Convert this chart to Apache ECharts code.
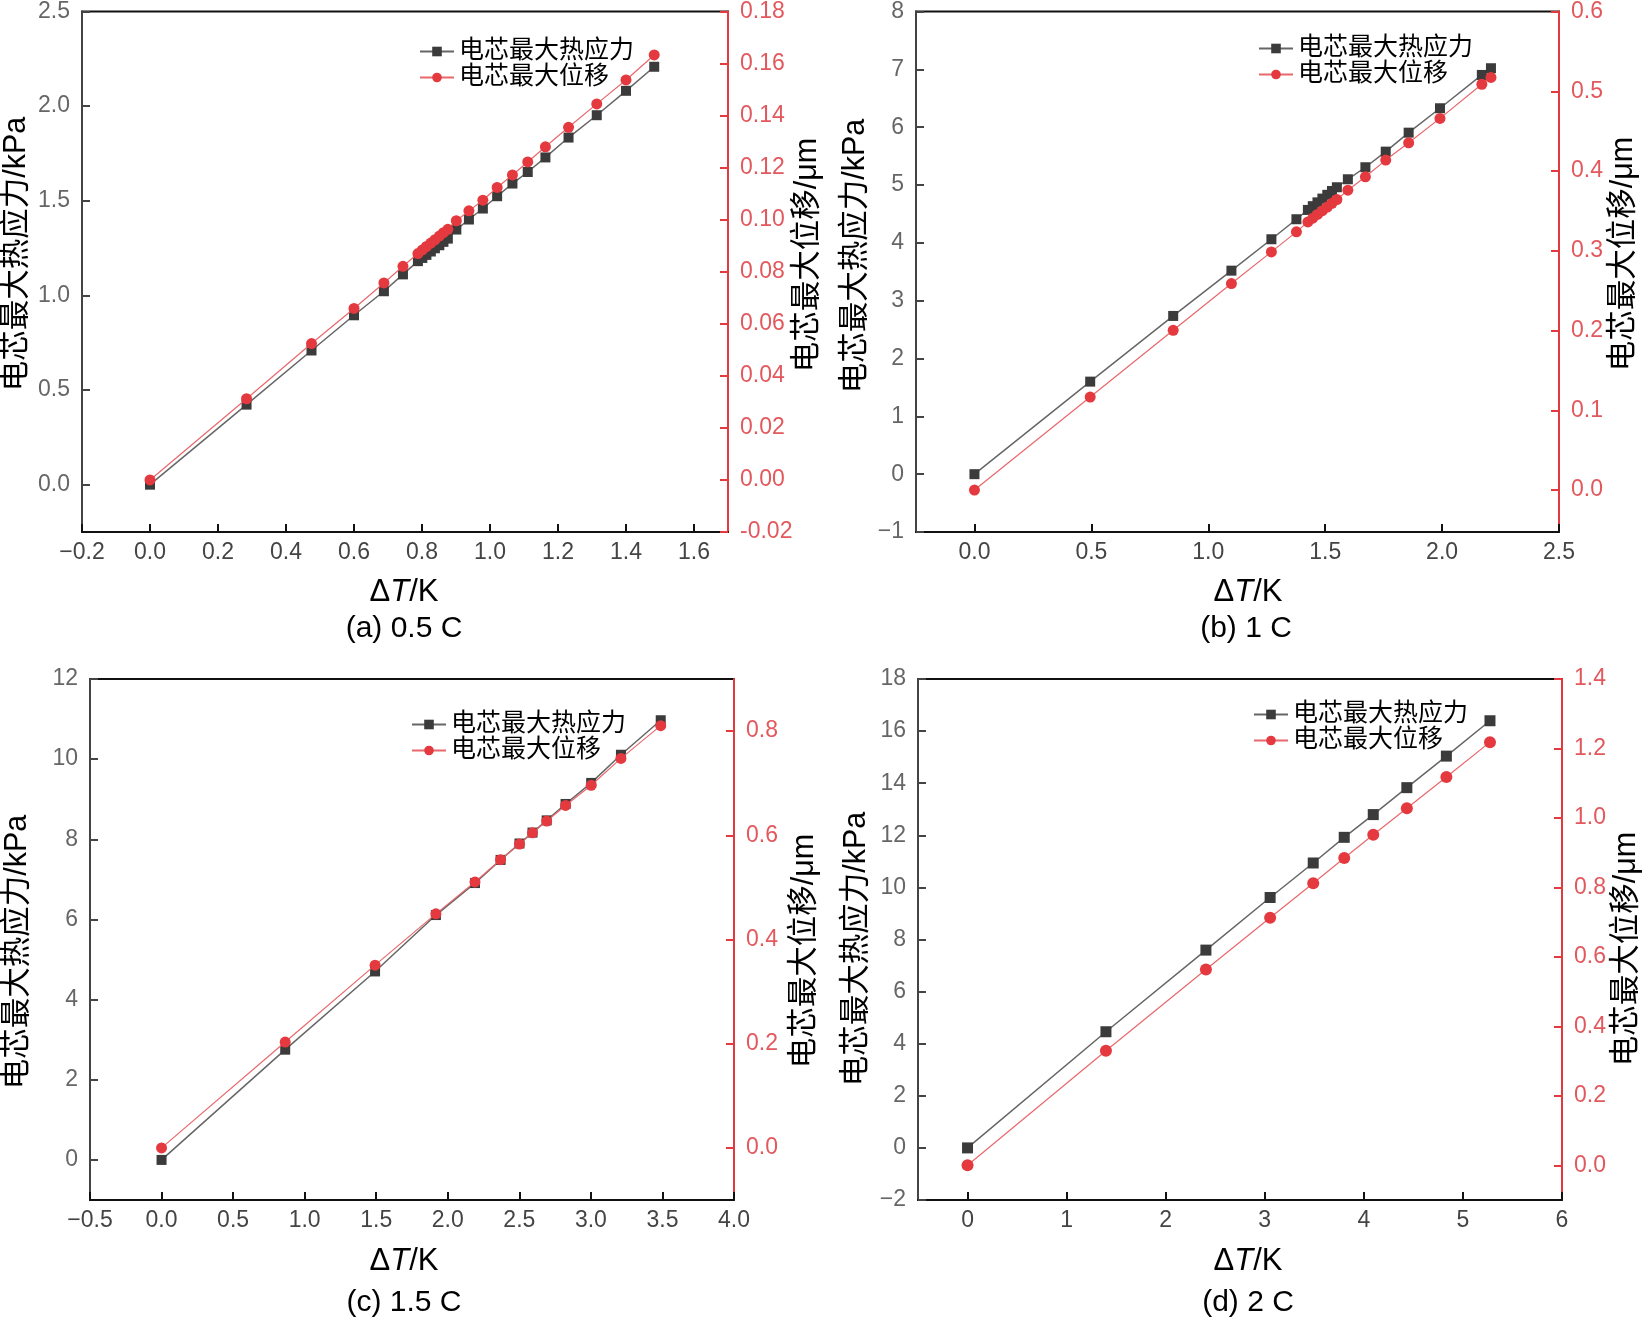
<!DOCTYPE html>
<html>
<head>
<meta charset="utf-8">
<script src="https://cdn.jsdelivr.net/npm/echarts@6/dist/echarts.min.js"></script>
<style>
html,body{margin:0;padding:0;background:#fff}
#chart{width:1644px;height:1320px}
</style>
</head>
<body>
<div id="chart"></div>
<script>
// (a) 0.5 C
var dtA = [0, 0.284, 0.475, 0.600, 0.688, 0.744, 0.788, 0.801, 0.813, 0.826, 0.838, 0.851, 0.863, 0.876, 0.901, 0.938, 0.979, 1.021, 1.066, 1.111, 1.163, 1.231, 1.314, 1.400, 1.483];
var stressA = [0, 0.423, 0.709, 0.895, 1.022, 1.111, 1.181, 1.198, 1.214, 1.232, 1.249, 1.265, 1.283, 1.300, 1.348, 1.401, 1.459, 1.524, 1.591, 1.652, 1.729, 1.834, 1.952, 2.081, 2.208];
var dispA = [0, 0.0312, 0.0524, 0.0659, 0.0757, 0.0821, 0.0870, 0.0884, 0.0897, 0.0910, 0.0923, 0.0937, 0.0950, 0.0963, 0.0996, 0.1034, 0.1075, 0.1124, 0.1172, 0.1222, 0.1280, 0.1355, 0.1445, 0.1537, 0.1633];
// (b) 1 C
var dtB = [0, 0.495, 0.850, 1.099, 1.270, 1.377, 1.426, 1.447, 1.467, 1.488, 1.509, 1.529, 1.550, 1.597, 1.672, 1.759, 1.857, 1.991, 2.170, 2.209];
var stressB = [0, 1.600, 2.736, 3.519, 4.062, 4.408, 4.569, 4.634, 4.700, 4.765, 4.830, 4.896, 4.961, 5.099, 5.307, 5.577, 5.905, 6.327, 6.903, 7.019];
var dispB = [0, 0.1166, 0.2003, 0.2589, 0.2986, 0.3237, 0.3362, 0.3409, 0.3456, 0.3503, 0.3549, 0.3596, 0.3643, 0.3760, 0.3927, 0.4137, 0.4354, 0.4660, 0.5088, 0.5174];
// (c) 1.5 C
var dtC = [0, 0.864, 1.492, 1.917, 2.190, 2.369, 2.501, 2.592, 2.691, 2.823, 3.002, 3.210, 3.488];
var stressC = [0, 2.751, 4.703, 6.110, 6.908, 7.486, 7.895, 8.168, 8.472, 8.882, 9.407, 10.110, 10.971];
var dispC = [0, 0.2032, 0.3508, 0.4492, 0.5105, 0.5532, 0.5831, 0.6048, 0.6274, 0.6573, 0.6960, 0.7476, 0.8105];
// (d) 2 C
var dtD = [0, 1.397, 2.406, 3.054, 3.489, 3.802, 4.095, 4.434, 4.833, 5.273];
var stressD = [0, 4.459, 7.593, 9.612, 10.937, 11.922, 12.795, 13.829, 15.040, 16.397];
var dispD = [0, 0.3297, 0.5636, 0.7127, 0.8121, 0.8848, 0.9515, 1.0279, 1.1176, 1.2182];

// tick labels
var xTicksA = [-0.2, 0, 0.2, 0.4, 0.6, 0.8, 1.0, 1.2, 1.4, 1.6];
var stressTicksA = [0, 0.5, 1.0, 1.5, 2.0, 2.5];
var dispTicksA = [-0.02, 0, 0.02, 0.04, 0.06, 0.08, 0.10, 0.12, 0.14, 0.16, 0.18];
var xTicksB = [0, 0.5, 1.0, 1.5, 2.0, 2.5];
var stressTicksB = [-1, 0, 1, 2, 3, 4, 5, 6, 7, 8];
var dispTicksB = [0, 0.1, 0.2, 0.3, 0.4, 0.5, 0.6];
var xTicksC = [-0.5, 0, 0.5, 1.0, 1.5, 2.0, 2.5, 3.0, 3.5, 4.0];
var stressTicksC = [0, 2, 4, 6, 8, 10, 12];
var dispTicksC = [0, 0.2, 0.4, 0.6, 0.8];
var xTicksD = [0, 1, 2, 3, 4, 5, 6];
var stressTicksD = [-2, 0, 2, 4, 6, 8, 10, 12, 14, 16, 18];
var dispTicksD = [0, 0.2, 0.4, 0.6, 0.8, 1.0, 1.2, 1.4];

var panelTitles = ['(a) 0.5 C', '(b) 1 C', '(c) 1.5 C', '(d) 2 C'];
var stressName = '电芯最大热应力';
var dispName = '电芯最大位移';

var FONT = '"Liberation Sans","Noto Sans CJK SC",sans-serif';
var RED = '#e4393f';

var panels = [
  {dt: dtA, s: stressA, d: dispA, xt: xTicksA, st: stressTicksA, dtk: dispTicksA,
   xr: [-0.2, 1.7], sr: [-0.25, 2.5], dr: [-0.02, 0.18], dec: [1, 1, 2],
   g: {left: 82, top: 11, width: 646, height: 521},
   leg: {left: 419, top: 39}, nameL: [17, 254], nameR: [808, 255], xName: [404, 592], title: [404, 629]},
  {dt: dtB, s: stressB, d: dispB, xt: xTicksB, st: stressTicksB, dtk: dispTicksB,
   xr: [-0.25, 2.5], sr: [-1, 8], dr: [-0.0526, 0.6], dec: [1, 0, 1],
   g: {left: 916, top: 11, width: 643, height: 521},
   leg: {left: 1258, top: 36}, nameL: [856, 256], nameR: [1624, 254], xName: [1248, 592], title: [1246, 629]},
  {dt: dtC, s: stressC, d: dispC, xt: xTicksC, st: stressTicksC, dtk: dispTicksC,
   xr: [-0.5, 4.0], sr: [-1, 12], dr: [-0.1, 0.9], dec: [1, 0, 1],
   g: {left: 90, top: 679, width: 644, height: 521},
   leg: {left: 411, top: 712}, nameL: [18, 952], nameR: [805, 951], xName: [404, 1261], title: [404, 1303]},
  {dt: dtD, s: stressD, d: dispD, xt: xTicksD, st: stressTicksD, dtk: dispTicksD,
   xr: [-0.5, 6], sr: [-2, 18], dr: [-0.1, 1.4], dec: [0, 0, 1],
   g: {left: 918, top: 679, width: 644, height: 521},
   leg: {left: 1253, top: 702}, nameL: [857, 949], nameR: [1627, 949], xName: [1248, 1261], title: [1248, 1303]}
];

function fmt(dec, minus) {
  return function (v) {
    var t = Number(v).toFixed(dec);
    if (minus && t.charAt(0) === '-') t = '\u2212' + t.slice(1);
    return t;
  };
}
function zip(xs, ys) {
  return xs.map(function (x, i) { return [x, ys[i]]; });
}

var option = {
  backgroundColor: '#fff',
  animation: false,
  grid: [], xAxis: [], yAxis: [], series: [], legend: [], graphic: []
};

panels.forEach(function (p, i) {
  option.grid.push({left: p.g.left, top: p.g.top, width: p.g.width, height: p.g.height,
    show: true, borderColor: '#111', borderWidth: 2, backgroundColor: 'transparent'});

  option.xAxis.push({
    gridIndex: i, type: 'value', min: p.xr[0], max: p.xr[1],
    axisLine: {show: true, onZero: false, lineStyle: {color: '#111', width: 2}},
    axisTick: {show: true, inside: true, length: 8, customValues: p.xt, lineStyle: {color: '#111', width: 2}},
    axisLabel: {customValues: p.xt, formatter: fmt(p.dec[0], true), color: '#444', fontSize: 23, fontFamily: FONT, margin: 9},
    splitLine: {show: false}
  });
  option.yAxis.push({
    gridIndex: i, type: 'value', position: 'left', min: p.sr[0], max: p.sr[1],
    axisLine: {show: true, onZero: false, lineStyle: {color: '#444', width: 2}},
    axisTick: {show: true, inside: true, length: 8, customValues: p.st, lineStyle: {color: '#444', width: 2}},
    axisLabel: {customValues: p.st, formatter: fmt(p.dec[1], true), color: '#666', fontSize: 23, fontFamily: FONT, margin: 12},
    splitLine: {show: false}
  });
  option.yAxis.push({
    gridIndex: i, type: 'value', position: 'right', min: p.dr[0], max: p.dr[1],
    axisLine: {show: true, onZero: false, lineStyle: {color: RED, width: 2}},
    axisTick: {show: true, inside: true, length: 8, customValues: p.dtk, lineStyle: {color: RED, width: 2}},
    axisLabel: {customValues: p.dtk, formatter: fmt(p.dec[2], false), color: '#e2585d', fontSize: 23, fontFamily: FONT, margin: 12},
    splitLine: {show: false}
  });

  var big = i === 3 ? 12 : 11;
  option.series.push({
    type: 'line', name: stressName, xAxisIndex: i, yAxisIndex: i * 2,
    data: zip(p.dt, p.s), symbol: 'rect', symbolSize: big - 1,
    itemStyle: {color: '#3b3b3b'}, lineStyle: {color: '#666', width: 1.5}, z: 3
  });
  option.series.push({
    type: 'line', name: dispName, xAxisIndex: i, yAxisIndex: i * 2 + 1,
    data: zip(p.dt, p.d), symbol: 'circle', symbolSize: big,
    itemStyle: {color: RED}, lineStyle: {color: '#e8686c', width: 1.2}, z: 4
  });

  option.legend.push({
    left: p.leg.left, top: p.leg.top, orient: 'vertical', padding: 0,
    itemWidth: 34, itemHeight: 12, itemGap: 1,
    textStyle: {fontSize: 25, color: '#000', fontFamily: FONT, padding: [0, 0, 0, 0]},
    data: [stressName, dispName]
  });

  option.graphic.push(
    {type: 'text', x: p.nameL[0], y: p.nameL[1], rotation: Math.PI / 2,
     style: {text: stressName + '/kPa', font: '30.5px ' + FONT, fill: '#000', textAlign: 'center', textVerticalAlign: 'middle'}},
    {type: 'text', x: p.nameR[0], y: p.nameR[1], rotation: Math.PI / 2,
     style: {text: dispName + '/\u03bcm', font: '30.5px ' + FONT, fill: '#000', textAlign: 'center', textVerticalAlign: 'middle'}},
    {type: 'text', x: p.xName[0], y: p.xName[1],
     style: {text: '{n|\u0394}{i|T}{n|/K}', textAlign: 'center', textVerticalAlign: 'middle', fill: '#000',
       rich: {n: {fontSize: 31, fontFamily: FONT, color: '#000'}, i: {fontSize: 31, fontFamily: FONT, fontStyle: 'italic', color: '#000'}}}},
    {type: 'text', x: p.title[0], y: p.title[1],
     style: {text: panelTitles[i], font: '30px ' + FONT, fill: '#000', textAlign: 'center', textVerticalAlign: 'middle'}}
  );
});

var myChart = echarts.init(document.getElementById('chart'));
myChart.setOption(option);
</script>
</body>
</html>
